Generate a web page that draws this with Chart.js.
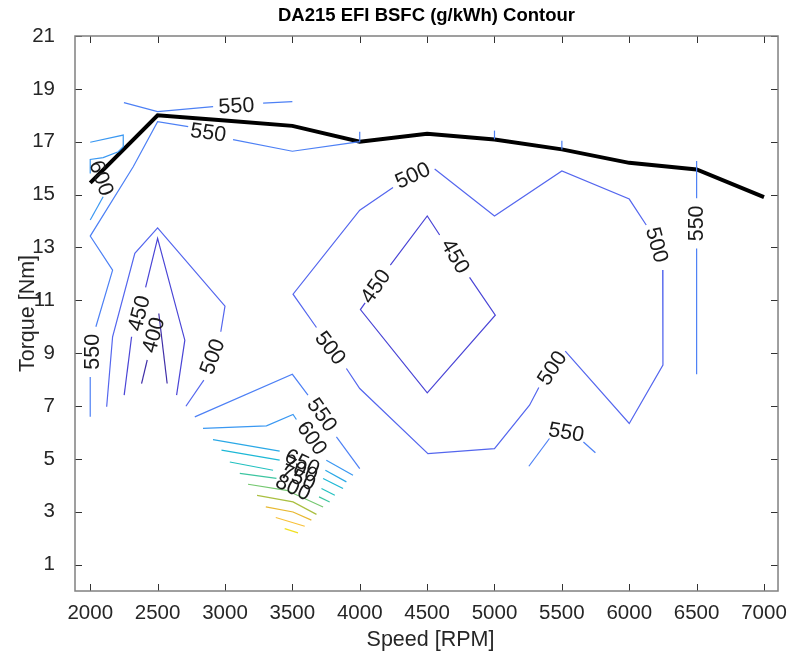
<!DOCTYPE html>
<html>
<head>
<meta charset="utf-8">
<script src="https://cdn.jsdelivr.net/npm/chart.js@4.4.1/dist/chart.umd.min.js"></script>
<style>
  html, body { margin: 0; padding: 0; background: #fff; }
  canvas { display: block; }
</style>
</head>
<body>
<canvas id="c" width="789" height="660"></canvas>
<script>
// ---- data ----
const xTicks = [2000, 2500, 3000, 3500, 4000, 4500, 5000, 5500, 6000, 6500, 7000];
const yTicks = [1, 3, 5, 7, 9, 11, 13, 15, 17, 19, 21];

// full load torque curve (black line)
const wotRpm = [2000, 2500, 3000, 3500, 4000, 4500, 5000, 5500, 6000, 6500, 7000];
const wotTorque = [15.44, 18.0, 17.8, 17.6, 17.0, 17.3, 17.08, 16.71, 16.2, 15.95, 14.9];

// contour levels (g/kWh)
const levels = [400, 450, 500, 550, 600, 650, 700, 750, 800, 850, 900, 950, 1000, 1050];

// contour pieces per level, [rpm, Nm]
const c400 = [
  [[2381, 7.85], [2423, 8.74]],
  [[2509, 10.5], [2571, 7.85]]
];
const c450 = [
  [[2252, 7.41], [2307, 9.62]],
  [[2411, 11.49], [2500, 13.34], [2702, 9.49], [2641, 7.41]],
  [[4227, 12.33], [4501, 14.19], [4593, 13.47]],
  [[4815, 11.87], [5006, 10.44], [4501, 7.50], [4005, 10.65], [4040, 10.9]]
];
const c500 = [
  [[2122, 6.97], [2166, 9.62], [2331, 12.78], [2500, 13.74], [3000, 10.78], [2969, 9.81]],
  [[2843, 7.98], [2710, 6.99]],
  [[3679, 9.97], [3505, 11.23], [4000, 14.41], [4247, 15.27]],
  [[4556, 15.97], [5000, 14.19], [5500, 15.89], [6000, 14.83], [6126, 13.85]],
  [[6248, 12.15], [6250, 8.55], [6000, 6.34], [5525, 9.08]],
  [[5329, 7.70], [5260, 7.03], [5000, 5.39], [4506, 5.20], [4000, 7.66], [3901, 8.42]]
];
const c550 = [
  [[2000, 6.59], [2000, 8.1]],
  [[2042, 10.0], [2166, 12.14], [2000, 13.43], [2319, 16.05], [2500, 17.76], [2727, 17.57]],
  [[3060, 17.08], [3500, 16.64], [4000, 17.0], [4000, 17.38]],
  [[2250, 18.48], [2500, 18.14], [2912, 18.33]],
  [[3283, 18.46], [3500, 18.52]],
  [[5000, 17.09], [5000, 17.42]],
  [[5500, 16.71], [5500, 17.04]],
  [[6500, 16.27], [6500, 14.86]],
  [[6500, 12.96], [6500, 8.2]],
  [[2776, 6.59], [3500, 8.2], [3616, 7.41]],
  [[3827, 5.83], [4000, 4.63]],
  [[5255, 4.72], [5408, 5.77]],
  [[5660, 5.64], [5749, 5.23]]
];
const c600 = [
  [[2000, 15.8], [2000, 16.33], [2096, 16.4], [2208, 16.62], [2245, 16.81], [2245, 17.25], [2000, 16.98]],
  [[2000, 14.04], [2096, 14.92]],
  [[2837, 6.15], [3308, 6.25], [3505, 6.68], [3530, 6.49]],
  [[3752, 4.95], [3950, 4.38]]
];
const c650 = [[[2911, 5.73], [3406, 5.29]], [[3745, 4.57], [3901, 4.13]]];
const c700 = [[[2974, 5.33], [3406, 4.95]], [[3728, 4.26], [3876, 3.88]]];
const c750 = [[[3036, 4.88], [3357, 4.57]], [[3716, 3.88], [3815, 3.62]]];
const c800 = [[[3110, 4.45], [3382, 4.26]], [[3698, 3.56], [3777, 3.37]]];
const c850 = [[[3171, 4.04], [3456, 3.81], [3728, 3.18]]];
const c900 = [[[3238, 3.62], [3505, 3.37], [3679, 2.90]]];
const c950 = [[[3303, 3.18], [3505, 2.99], [3641, 2.68]]];
const c1000 = [[[3377, 2.78], [3592, 2.45]]];
const c1050 = [[[3443, 2.36], [3542, 2.20]]];

const contours = [c400, c450, c500, c550, c600, c650, c700, c750, c800, c850, c900, c950, c1000, c1050];

// inline labels: text, rpm, Nm, angle
const labelText = ['400', '450', '450', '450', '500', '500', '500', '500', '500',
  '550', '550', '550', '550', '550', '550', '600', '600', '650', '700', '750', '800'];
const labelRpm = [2475, 2368, 4123, 4704, 2912, 4395, 6199, 5433, 3777,
  2022, 3085, 2875, 6500, 3716, 5532, 2077, 3641, 3571, 3555, 3540, 3503];
const labelNm = [9.68, 10.5, 11.51, 12.65, 8.86, 15.7, 13.09, 8.42, 9.18,
  9.05, 18.33, 17.32, 13.91, 6.65, 5.98, 15.61, 5.77, 4.84, 4.57, 4.27, 3.89];
const labelAngle = [-75, -75, -55, 60, -70, -25, 75, -57, 52,
  -90, -3, 8, -90, 55, 10, 70, 55, 25, 25, 25, 25];

// ---- styling ----
const FONT = '"Liberation Sans", Arial, Helvetica, sans-serif';
const levelColors = ['#3f2ea8', '#4a45d6', '#5466ee', '#4d80f5', '#3a98f2', '#2aa8e6',
  '#1db8d6', '#22c0c0', '#3cc5a0', '#74c870', '#aabf40', '#e8b830', '#f8c038', '#f0e020'];

const datasets = [];
contours.forEach((pieces, i) => {
  pieces.forEach(seg => {
    datasets.push({
      data: seg.map(p => ({ x: p[0], y: p[1] })),
      showLine: true,
      borderColor: levelColors[i],
      borderWidth: 1.2,
      pointRadius: 0,
      fill: false,
      tension: 0
    });
  });
});
datasets.push({
  data: wotRpm.map((r, i) => ({ x: r, y: wotTorque[i] })),
  showLine: true,
  borderColor: '#000',
  borderWidth: 4,
  pointRadius: 0,
  fill: false,
  tension: 0
});

const decor = {
  id: 'decor',
  afterDatasetsDraw(chart) {
    const ctx = chart.ctx;
    const xs = chart.scales.x, ys = chart.scales.y;
    ctx.save();
    ctx.fillStyle = '#1a1a1a';
    ctx.font = '21.5px ' + FONT;
    ctx.textAlign = 'center';
    ctx.textBaseline = 'middle';
    labelText.forEach((t, i) => {
      ctx.save();
      ctx.translate(xs.getPixelForValue(labelRpm[i]), ys.getPixelForValue(labelNm[i]));
      ctx.rotate(labelAngle[i] * Math.PI / 180);
      ctx.fillText(t, 0, 0);
      ctx.restore();
    });
    ctx.restore();
  },
  afterDraw(chart) {
    const ctx = chart.ctx;
    const a = chart.chartArea;
    const xs = chart.scales.x, ys = chart.scales.y;
    ctx.save();
    // inward ticks on all sides
    ctx.strokeStyle = '#333';
    ctx.lineWidth = 1;
    ctx.beginPath();
    xTicks.forEach(v => {
      const px = Math.round(xs.getPixelForValue(v)) + 0.5;
      ctx.moveTo(px, a.bottom); ctx.lineTo(px, a.bottom - 7);
      ctx.moveTo(px, a.top); ctx.lineTo(px, a.top + 7);
    });
    yTicks.forEach(v => {
      const py = Math.round(ys.getPixelForValue(v)) + 0.5;
      ctx.moveTo(a.left, py); ctx.lineTo(a.left + 7, py);
      ctx.moveTo(a.right, py); ctx.lineTo(a.right - 7, py);
    });
    ctx.stroke();
    // box
    ctx.strokeStyle = '#808080';
    ctx.lineWidth = 1.5;
    ctx.strokeRect(a.left, a.top, a.right - a.left, a.bottom - a.top);
    // titles
    ctx.fillStyle = '#000';
    ctx.textAlign = 'center';
    ctx.textBaseline = 'alphabetic';
    ctx.font = 'bold 18.5px ' + FONT;
    ctx.fillText('DA215 EFI BSFC (g/kWh) Contour', (a.left + a.right) / 2, 21);
    ctx.fillStyle = '#262626';
    ctx.font = '21.5px ' + FONT;
    ctx.fillText('Speed [RPM]', (a.left + a.right) / 2 + 4, 646);
    ctx.save();
    ctx.translate(34, (a.top + a.bottom) / 2);
    ctx.rotate(-Math.PI / 2);
    ctx.fillText('Torque [Nm]', 0, 0);
    ctx.restore();
    ctx.restore();
  }
};

new Chart(document.getElementById('c'), {
  type: 'scatter',
  data: { datasets },
  options: {
    responsive: false,
    animation: false,
    events: [],
    layout: { padding: { top: 36, right: 10, left: 0, bottom: 0 } },
    plugins: { legend: { display: false }, tooltip: { enabled: false }, title: { display: false } },
    scales: {
      x: {
        type: 'linear',
        min: 1887,
        max: 7104,
        afterBuildTicks: s => { s.ticks = xTicks.map(v => ({ value: v })); },
        afterFit: s => { s.height = 69; },
        grid: { display: false },
        border: { display: false },
        ticks: { color: '#262626', font: { size: 20.5, family: FONT }, padding: 2, maxRotation: 0, autoSkip: false,
                 callback: v => String(v) }
      },
      y: {
        type: 'linear',
        min: 0,
        max: 21,
        afterBuildTicks: s => { s.ticks = yTicks.map(v => ({ value: v })); },
        afterFit: s => { s.width = 75; },
        grid: { display: false },
        border: { display: false },
        ticks: { color: '#262626', font: { size: 20.5, family: FONT }, padding: 12, autoSkip: false,
                 callback: v => String(v) }
      }
    }
  },
  plugins: [decor]
});
</script>
</body>
</html>
